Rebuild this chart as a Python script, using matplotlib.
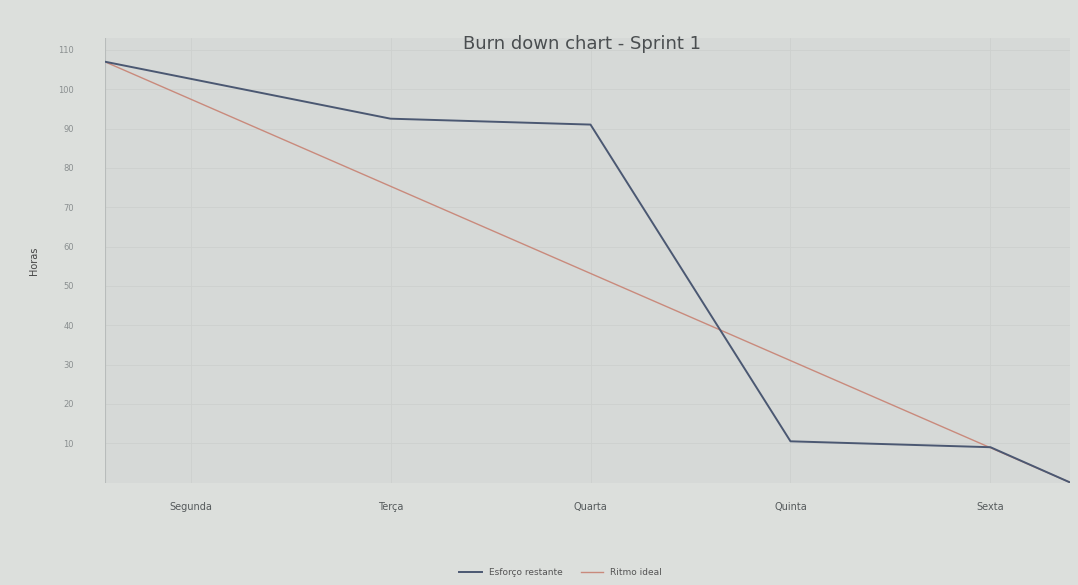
import matplotlib
matplotlib.use("Agg")
import matplotlib.pyplot as plt

days = ["Segunda", "Terça", "Quarta", "Quinta", "Sexta"]
day_pos = [0, 1, 2, 3, 4]
x_points = [-0.43, 1, 2, 3, 4, 4.4]
esforco = [107, 92.5, 91, 10.5, 9, 0]
ideal_x = [-0.43, 4.4]
ideal = [107, 0]
yticks = [10, 20, 30, 40, 50, 60, 70, 80, 90, 100, 110]

fig = plt.figure(figsize=(10.78, 5.85), dpi=100)
bg = "#dcdfdc"
fig.patch.set_facecolor(bg)
ax = fig.add_axes([0.097, 0.175, 0.896, 0.76])
ax.set_facecolor("#d6d9d7")

ax.plot(x_points, esforco, color="#4b5872", lw=1.4, label="Esforço restante", zorder=3)
ax.plot(ideal_x, ideal, color="#c98a7c", lw=1.0, label="Ritmo ideal", zorder=2)

ax.set_xlim(-0.43, 4.4)
ax.set_ylim(0, 113)
ax.set_xticks(day_pos)
ax.set_xticklabels(days, fontsize=7, color="#555a5c")
ax.set_yticks(yticks)
ax.set_yticklabels([str(v) for v in yticks], fontsize=6, color="#8a8f90")
ax.tick_params(axis="both", length=0)
ax.tick_params(axis="x", pad=14)
ax.tick_params(axis="y", pad=22)
ax.grid(True, color="#cdd0ce", lw=0.6)
for s in ax.spines.values():
    s.set_visible(False)
ax.axvline(-0.43, color="#b8bcbb", lw=0.8)

ax.set_ylabel("Horas", fontsize=7, color="#444", labelpad=14)
fig.text(0.54, 0.925, "Burn down chart - Sprint 1", ha="center", va="center",
         fontsize=13, color="#4a4e50")

leg = fig.legend(loc="lower center", bbox_to_anchor=(0.52, 0.0), ncol=2, frameon=False,
                 fontsize=6.5, handlelength=2.5)
for t in leg.get_texts():
    t.set_color("#555")

fig.savefig("out.png", dpi=100, facecolor=bg)
